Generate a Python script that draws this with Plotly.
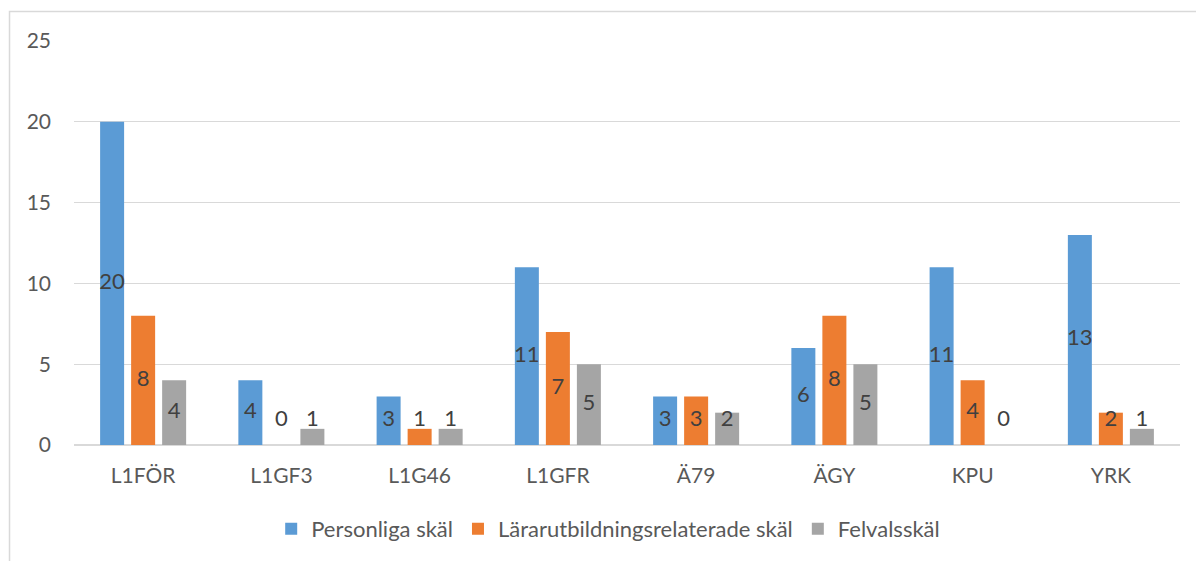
import plotly.graph_objects as go

# categories and series values
programs = ["L1FÖR", "L1GF3", "L1G46", "L1GFR", "Ä79", "ÄGY", "KPU", "YRK"]
personliga = [20, 4, 3, 11, 3, 6, 11, 13]
lararutb = [8, 0, 1, 7, 3, 8, 4, 2]
felval = [4, 1, 1, 5, 2, 5, 0, 1]

series_names = ["Personliga skäl", "Lärarutbildningsrelaterade skäl", "Felvalsskäl"]
colors = ["#5B9BD5", "#ED7D31", "#A5A5A5"]
font_family = "Lato, 'Open Sans', sans-serif"

fig = go.Figure()

for name, vals, col in zip(series_names, [personliga, lararutb, felval], colors):
    fig.add_trace(go.Bar(x=programs, y=vals, name=name, marker_color=col,
                         marker_line_width=0, offsetgroup=name))

# centre labels (Excel keeps short-bar labels lifted off the axis)
for name, vals in zip(series_names, [personliga, lararutb, felval]):
    fig.add_trace(go.Scatter(
        x=programs, y=[max(v / 2, 1.5) for v in vals], text=[str(v) for v in vals],
        mode="text", textfont=dict(size=22, color="#404040", family=font_family),
        showlegend=False, hoverinfo="skip", offsetgroup=name,
    ))

fig.update_layout(
    width=1196, height=561,
    margin=dict(l=74, r=16, t=41, b=115),
    paper_bgcolor="white", plot_bgcolor="white",
    barmode="group", bargap=0.327, bargroupgap=0.226,
    scattermode="group", scattergap=0.327,
    font=dict(family=font_family, size=21, color="#595959"),
    legend=dict(orientation="h", x=0.483, xanchor="center", y=-0.205, yanchor="middle",
                font=dict(size=22, color="#595959"), itemwidth=30, traceorder="normal"),
    showlegend=True,
)
fig.update_yaxes(range=[0, 25], dtick=5, showgrid=True, gridcolor="#D9D9D9", gridwidth=1.2,
                 zeroline=True, zerolinecolor="#D9D9D9", zerolinewidth=2,
                 showline=False, ticks="", ticklabelstandoff=22,
                 tickfont=dict(size=21, color="#595959"), fixedrange=True)
fig.update_xaxes(showgrid=False, showline=False, ticks="", ticklabelstandoff=16,
                 tickfont=dict(size=21, color="#595959"), fixedrange=True)

# chart-area border, as in the spreadsheet export
fig.add_shape(type="rect", xref="paper", yref="paper",
              x0=-0.0583, x1=1.05, y0=-0.4, y1=1.0728,
              line=dict(color="#D9D9D9", width=1.5), fillcolor="rgba(0,0,0,0)", layer="below")

# drop the default 8px page margin so the figure sits at the window origin
fig.write_html("out.html", config={"displayModeBar": False},
               post_script="document.body.style.margin='0';")
